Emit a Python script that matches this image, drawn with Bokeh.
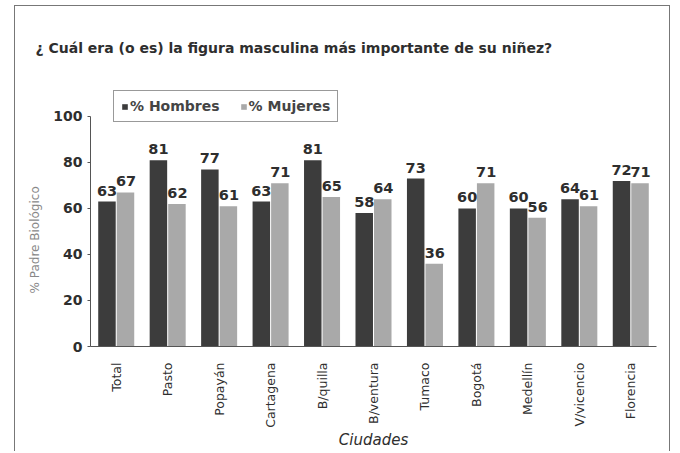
from bokeh.plotting import figure
from bokeh.models import ColumnDataSource, FactorRange, LabelSet, Legend, LegendItem, Range1d, Title
from bokeh.core.properties import value
from bokeh.transform import dodge
from bokeh.embed import file_html
from bokeh.resources import INLINE
import math

cities = ["Total", "Pasto", "Popayán", "Cartagena", "B/quilla", "B/ventura",
          "Tumaco", "Bogotá", "Medellín", "V/vicencio", "Florencia"]
hombres = [63, 81, 77, 63, 81, 58, 73, 60, 60, 64, 72]
mujeres = [67, 62, 61, 71, 65, 64, 36, 71, 56, 61, 71]
y_ticks = [0, 20, 40, 60, 80, 100]

title_text = "¿ Cuál era (o es) la figura masculina más importante de su niñez?"
FONT = "DejaVu Sans"
DARK = "#3c3c3c"
LIGHT = "#a9a9a9"
TXT = "#2e2e2e"

src = ColumnDataSource(dict(city=cities, h=hombres, m=mujeres))

p = figure(x_range=FactorRange(*cities), y_range=Range1d(0, 113.9),
           width=656, height=446, output_backend="svg", toolbar_location=None,
           min_border_left=75, min_border_right=15, min_border_top=78,
           min_border_bottom=106, title=title_text,
           styles={"border-top": "1px solid #777", "border-left": "1px solid #777",
                   "border-right": "1px solid #777",
                   "margin-left": "14px", "margin-top": "5px"})

p.title.text_font = FONT
p.title.text_font_size = "14px"
p.title.text_font_style = "bold"
p.title.text_color = TXT
p.title.align = "left"
p.title.offset = -55
p.title.standoff = 58

rh = p.vbar(x=dodge("city", -0.18, range=p.x_range), top="h", width=0.34,
            source=src, fill_color=DARK, line_color=None)
rm = p.vbar(x=dodge("city", 0.18, range=p.x_range), top="m", width=0.34,
            source=src, fill_color=LIGHT, line_color=None)

for col, dx in (("h", -0.18), ("m", 0.19)):
    p.add_layout(LabelSet(x=dodge("city", dx, range=p.x_range), y=col, text=col,
                          source=src, y_offset=6, text_align="center",
                          text_font=value(FONT), text_font_size=value("14.5px"),
                          text_font_style="bold", text_color=TXT))

legend = Legend(items=[LegendItem(label="% Hombres", renderers=[rh]),
                       LegendItem(label="% Mujeres", renderers=[rm])],
                orientation="horizontal", location=(23, 224),
                glyph_width=7, glyph_height=7, label_text_font=FONT,
                label_text_font_size="14px", label_text_font_style="bold",
                label_text_color="#444", border_line_color="#333",
                border_line_width=1, padding=7, spacing=20, label_standoff=2,
                margin=0, background_fill_alpha=1)
p.add_layout(legend, "center")

ylab = Title(text="% Padre Biológico", align="left", offset=53, standoff=18,
             text_font=FONT, text_font_size="12px", text_font_style="normal",
             text_color="#888")
p.add_layout(ylab, "left")

p.xgrid.grid_line_color = None
p.ygrid.grid_line_color = None
p.outline_line_color = None

p.yaxis.ticker = y_ticks
p.yaxis.bounds = (0, 100)
p.yaxis.major_label_text_font = FONT
p.yaxis.major_label_text_font_size = "14px"
p.yaxis.major_label_text_font_style = "bold"
p.yaxis.major_label_text_color = TXT
p.yaxis.major_label_standoff = 5
p.yaxis.minor_tick_line_color = None
p.yaxis.major_tick_out = 3
p.yaxis.major_tick_in = 0
p.yaxis.axis_line_color = "#555"
p.yaxis.major_tick_line_color = "#555"

p.xaxis.axis_label = "Ciudades"
p.xaxis.axis_label_text_font = FONT
p.xaxis.axis_label_text_font_size = "15px"
p.xaxis.axis_label_text_font_style = "italic"
p.xaxis.axis_label_text_color = TXT
p.xaxis.axis_label_standoff = 0
p.xaxis.major_label_orientation = math.pi / 2
p.xaxis.major_label_text_font = FONT
p.xaxis.major_label_text_font_size = "12.5px"
p.xaxis.major_label_text_color = TXT
p.xaxis.major_tick_line_color = None
p.xaxis.major_label_standoff = 10
p.xaxis.axis_line_color = "#555"

open("out.html", "w").write(file_html(p, INLINE))
